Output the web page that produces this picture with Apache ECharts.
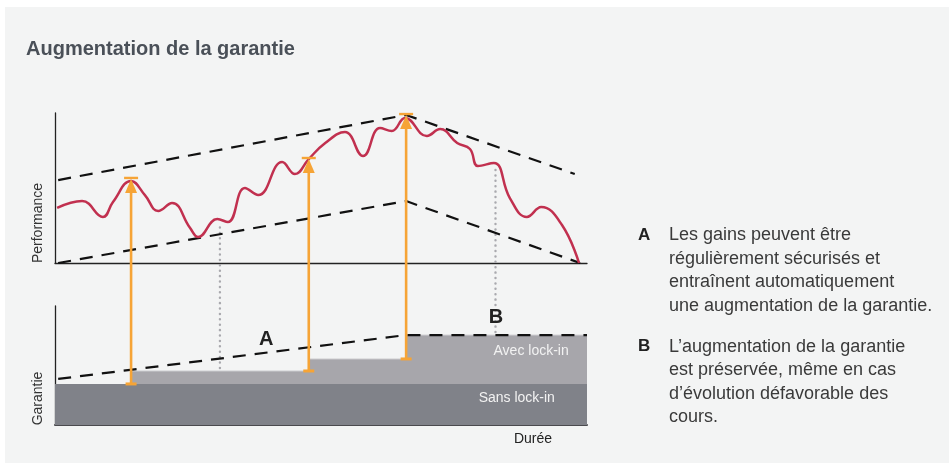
<!DOCTYPE html>
<html>
<head>
<meta charset="utf-8">
<script src="https://cdn.jsdelivr.net/npm/echarts@6/dist/echarts.min.js"></script>
<style>
    html, body { margin: 0; padding: 0; background: #ffffff; }
    #main { width: 949px; height: 463px; }
</style>
</head>
<body>
<div id="main"></div>
<script>
    // performance curve (time 0-100, performance 0-100)
    const perfTime = [0.4, 5.1, 9.0, 10.9, 14.3, 16.9, 19.4, 22.0, 25.4, 26.9, 30.5, 32.5, 35.7, 38.2, 42.7, 45.1, 47.7, 50.8, 54.5, 57.9, 61.1, 63.3, 65.8, 69.9, 72.4, 75.6, 78.0, 79.5, 82.5, 85.5, 88.7, 91.4, 95.3, 98.5]
    const perfValue = [36.7, 41.3, 30.7, 40.7, 54.7, 45.3, 34.7, 40, 23.3, 17.3, 29.3, 27.3, 50, 45.3, 67.3, 59.3, 69.3, 80, 87.3, 71.3, 90, 88, 96.7, 84.7, 89.3, 80, 76, 64.7, 66.7, 43.3, 30.7, 37.3, 25.3, 0]

    // trend channel (dashed)
    const upperTime = [0.6, 66, 97.7]
    const upperValue = [55.3, 98.7, 59.3]
    const lowerTime = [0.6, 66, 98.7]
    const lowerValue = [0, 41.3, 0]

    // guarantee panel (time 0-100, guarantee 0-100)
    const sansTime = [0, 100]
    const sansLevel = [34.5, 34.5]
    const avecTime = [14.3, 47.7, 66, 100]
    const avecLevel = [45.4, 55.5, 75.6, 75.6]
    const floorTime = [0.6, 66, 100]
    const floorLevel = [38.7, 75.6, 75.6]

    // lock-in arrows: time, previous guarantee, performance peak
    const lockTime = [14.3, 47.7, 66]
    const lockFrom = [34.5, 45.4, 55.5]
    const lockPeak = [56.7, 70, 99.3]

    // dotted guides: time, performance, guarantee
    const guideTime = [31.0, 82.8]
    const guidePerf = [25, 64]
    const guideLevel = [45.4, 75.6]

    const noteLetters = ['A', 'B']
    const noteTime = [39.7, 82.9]
    const noteLevel = [71.8, 90.3]

    const bandNames = ['Avec lock-in', 'Sans lock-in']
    const bandTime = [89.5, 86.8]
    const bandLevel = [62.2, 22.7]

    const FONT = '"Liberation Sans", Arial, sans-serif'
    const dashed = { color: '#111111', width: 2.2, type: [13, 9] }
    const zip = (a, b) => a.map((v, i) => [v, b[i]])

    const chart = echarts.init(document.getElementById('main'))

    const xAxisBase = {
        type: 'value', min: 0, max: 100,
        axisTick: { show: false }, axisLabel: { show: false }, splitLine: { show: false }
    }
    const yAxisBase = {
        type: 'value', min: 0, max: 100,
        axisTick: { show: false }, axisLabel: { show: false }, splitLine: { show: false }
    }

    // text placed in the guarantee panel through its axes
    function textSeries(name, labels, times, levels, font, color) {
        return {
            name: name, type: 'custom', xAxisIndex: 1, yAxisIndex: 1, silent: true, z: 8,
            data: zip(times, levels), encode: { x: 0, y: 1 },
            renderItem: function (params, api) {
                const p = api.coord([api.value(0), api.value(1)])
                return {
                    type: 'text', x: p[0], y: p[1],
                    style: { text: labels[params.dataIndex], font: font, fill: color, align: 'center', verticalAlign: 'middle' }
                }
            }
        }
    }

    const options = {
        animation: false,
        backgroundColor: '#ffffff',
        title: {
            text: 'Augmentation de la garantie',
            left: 21, top: 34,
            textStyle: { color: '#4a5058', fontSize: 20, fontWeight: 'bold', fontFamily: FONT }
        },
        grid: [
            { left: 55, right: 362, top: 113, height: 150 },
            { left: 55, right: 362, top: 306, height: 119 }
        ],
        xAxis: [
            Object.assign({ gridIndex: 0, axisLine: { show: true, lineStyle: { color: '#222', width: 1.3 } } }, xAxisBase),
            Object.assign({ gridIndex: 1, axisLine: { show: true, lineStyle: { color: '#4a4a4e', width: 2 } } }, xAxisBase)
        ],
        yAxis: [
            Object.assign({ gridIndex: 0, axisLine: { show: true, lineStyle: { color: '#222', width: 1.3 } } }, yAxisBase),
            Object.assign({ gridIndex: 1, axisLine: { show: true, lineStyle: { color: '#222', width: 1.3 } } }, yAxisBase)
        ],
        graphic: [
            { type: 'rect', z: -10, shape: { x: 5, y: 7, width: 944, height: 456 }, style: { fill: '#f3f4f4' } },
            { type: 'text', x: 38, y: 223, rotation: Math.PI / 2,
              style: { text: 'Performance', fill: '#333', font: '14px ' + FONT, align: 'center', verticalAlign: 'middle' } },
            { type: 'text', x: 38, y: 398.5, rotation: Math.PI / 2,
              style: { text: 'Garantie', fill: '#333', font: '14px ' + FONT, align: 'center', verticalAlign: 'middle' } },
            { type: 'text', x: 533, y: 439,
              style: { text: 'Durée', fill: '#222', font: '14px ' + FONT, align: 'center', verticalAlign: 'middle' } },
            { type: 'text', x: 638, y: 223.5,
              style: { text: 'A', fill: '#222', font: 'bold 17px ' + FONT, verticalAlign: 'top', lineHeight: 23.5 } },
            { type: 'text', x: 669, y: 223.5,
              style: { text: 'Les gains peuvent être\nrégulièrement sécurisés et\nentraînent automatiquement\nune augmentation de la garantie.',
                       fill: '#3a3a3a', font: '18px ' + FONT, verticalAlign: 'top', lineHeight: 23.5 } },
            { type: 'text', x: 638, y: 335,
              style: { text: 'B', fill: '#222', font: 'bold 17px ' + FONT, verticalAlign: 'top', lineHeight: 23.5 } },
            { type: 'text', x: 669, y: 335,
              style: { text: 'L’augmentation de la garantie\nest préservée, même en cas\nd’évolution défavorable des\ncours.',
                       fill: '#3a3a3a', font: '18px ' + FONT, verticalAlign: 'top', lineHeight: 23.5 } }
        ],
        series: [
            {
                name: 'upper', type: 'line', xAxisIndex: 0, yAxisIndex: 0, silent: true,
                data: zip(upperTime, upperValue), symbol: 'none', lineStyle: dashed, z: 3
            },
            {
                name: 'lower', type: 'line', xAxisIndex: 0, yAxisIndex: 0, silent: true,
                data: zip(lowerTime, lowerValue), symbol: 'none', lineStyle: dashed, z: 3
            },
            {
                name: 'Performance', type: 'line', xAxisIndex: 0, yAxisIndex: 0, silent: true,
                data: zip(perfTime, perfValue), symbol: 'none', smooth: 0.45,
                lineStyle: { color: '#c1304f', width: 2.5 }, z: 4
            },
            {
                name: 'Avec lock-in', type: 'line', xAxisIndex: 1, yAxisIndex: 1, silent: true,
                data: zip(avecTime, avecLevel), symbol: 'none', step: 'end',
                lineStyle: { color: '#cfcfd2', width: 1 }, areaStyle: { color: '#a7a6ab', opacity: 1 }, z: 1
            },
            {
                name: 'Sans lock-in', type: 'line', xAxisIndex: 1, yAxisIndex: 1, silent: true,
                data: zip(sansTime, sansLevel), symbol: 'none',
                lineStyle: { width: 0 }, areaStyle: { color: '#808289', opacity: 1 }, z: 2
            },
            {
                name: 'floor', type: 'line', xAxisIndex: 1, yAxisIndex: 1, silent: true,
                data: zip(floorTime, floorLevel), symbol: 'none', lineStyle: dashed, z: 3
            },
            {
                name: 'guides', type: 'custom', xAxisIndex: 1, yAxisIndex: 1, silent: true, z: 2,
                data: guideTime.map((t, i) => [t, guideLevel[i], guidePerf[i]]),
                encode: { x: 0, y: 1 },
                renderItem: function (params, api) {
                    const bottom = api.coord([api.value(0), api.value(1)])
                    const top = chart.convertToPixel({ gridIndex: 0 }, [api.value(0), api.value(2)])
                    return {
                        type: 'line',
                        shape: { x1: bottom[0], y1: bottom[1] - 3, x2: bottom[0], y2: top[1] },
                        style: { stroke: '#a9a9ae', lineWidth: 2.4, lineDash: [0.1, 5.3], lineCap: 'round' }
                    }
                }
            },
            {
                name: 'lock-in', type: 'custom', xAxisIndex: 1, yAxisIndex: 1, silent: true, z: 6,
                data: lockTime.map((t, i) => [t, lockFrom[i], lockPeak[i]]),
                encode: { x: 0, y: 1 },
                renderItem: function (params, api) {
                    const bottom = api.coord([api.value(0), api.value(1)])
                    const top = chart.convertToPixel({ gridIndex: 0 }, [api.value(0), api.value(2)])
                    const x = bottom[0]
                    const orange = '#f6a436'
                    return {
                        type: 'group',
                        children: [
                            { type: 'line', shape: { x1: x, y1: bottom[1], x2: x, y2: top[1] + 14 },
                              style: { stroke: orange, lineWidth: 2.6 } },
                            { type: 'polygon', shape: { points: [[x, top[1] + 1], [x - 6, top[1] + 15], [x + 6, top[1] + 15]] },
                              style: { fill: orange } },
                            { type: 'rect', shape: { x: x - 7, y: top[1] - 1.2, width: 14, height: 2.4 },
                              style: { fill: orange } },
                            { type: 'rect', shape: { x: x - 5.5, y: bottom[1] - 1.5, width: 11, height: 3 },
                              style: { fill: orange } }
                        ]
                    }
                }
            },
            textSeries('notes', noteLetters, noteTime, noteLevel, 'bold 20px ' + FONT, '#222222'),
            textSeries('bands', bandNames, bandTime, bandLevel, '14px ' + FONT, '#f2f2f2')
        ]
    }

    chart.setOption(options)
    window.addEventListener('resize', chart.resize)
</script>
</body>
</html>
